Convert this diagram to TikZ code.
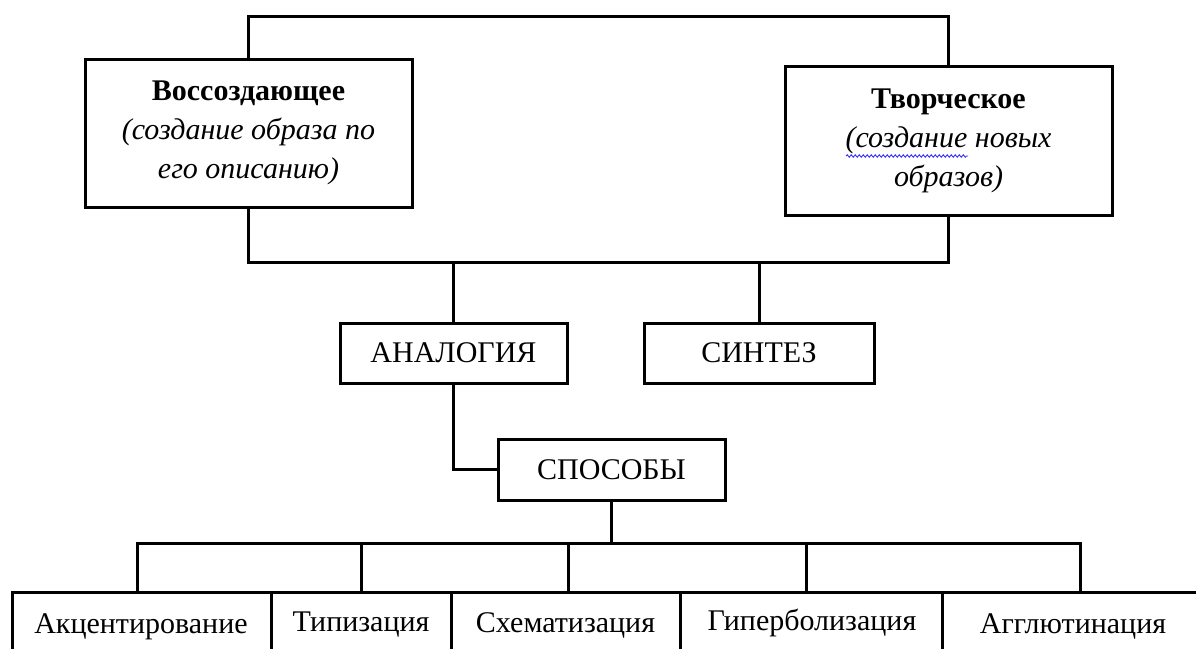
\documentclass[tikz,border=0pt]{standalone}
\usepackage{fontspec}
\setmainfont{Liberation Serif}
\usetikzlibrary{calc,decorations.pathmorphing}
\begin{document}
\begin{tikzpicture}[x=1pt,y=-1pt,
  line width=3pt, line join=miter,
  txt/.style={font=\fontsize{30}{39}\selectfont},
  box/.style={draw, line width=3pt, inner sep=0pt, align=center, txt},
  link/.style={draw, line width=3pt, line cap=rect, line join=miter},
  celltext/.style={txt, anchor=base, inner sep=0pt}]
\clip (0,0) rectangle (1196,648);
\fill[white] (0,0) rectangle (1196,648);

% top boxes
\node[box, minimum width=327, minimum height=148] (lb) at (248.5,133)
  {\textbf{Воссоздающее}\\\textit{(создание образа по}\\\textit{его описанию)}};
\node[box, minimum width=327, minimum height=149] (rb) at (948.5,140.5)
  {\textbf{Творческое}\\\textit{(создание новых}\\\textit{образов)}};

% middle boxes
\node[box, minimum width=227, minimum height=60] (an) at (453.5,353) {АНАЛОГИЯ};
\node[box, minimum width=230, minimum height=60] (sy) at (759,353) {СИНТЕЗ};
\node[box, minimum width=227, minimum height=61] (sp) at (611.5,469.5) {СПОСОБЫ};

% helper coordinates
\coordinate (topy) at (0,16);
\coordinate (boty) at (0,262);
\coordinate (bry) at (0,543);

% top connector
\draw[link] (lb.north) -- (lb.north |- topy) -- (rb.north |- topy) -- (rb.north);
% bottom connector
\draw[link] (lb.south) -- (lb.south |- boty) -- (rb.south |- boty) -- (rb.south);
\draw[link] (an.north) -- (an.north |- boty);
\draw[link] (sy.north) -- (sy.north |- boty);
% analogy to methods
\draw[link] (an.south) |- (sp.west);

% bottom table texts
\node[celltext] (c1) at (141,633) {Акцентирование};
\node[celltext] (c2) at (361,631) {Типизация};
\node[celltext] (c3) at (565.5,632) {Схематизация};
\node[celltext] (c4) at (812,630) {Гиперболизация};
\node[celltext] (c5) at (1073,633) {Агглютинация};

% table frame
\draw[line width=3pt] (12,660) -- (12,592) -- (1200,592);
\foreach \x in {271,451,680,942} \draw[line width=3pt] (\x,592) -- (\x,660);

% branch
\coordinate (d1) at (137,592);
\coordinate (d2) at (361,592);
\coordinate (d3) at (568,592);
\coordinate (d4) at (806,592);
\coordinate (d5) at (1080,592);
\draw[link] (sp.south) -- (sp.south |- bry);
\draw[link] (d1) -- (d1 |- bry) -- (d5 |- bry) -- (d5);
\draw[link] (d2 |- bry) -- (d2);
\draw[link] (d3 |- bry) -- (d3);
\draw[link] (d4 |- bry) -- (d4);

% spell-check wavy underline
\draw[blue!80, line width=0.9pt, decorate, decoration={snake, amplitude=1.2pt, segment length=4pt}] (846,156) -- (968,156);
\end{tikzpicture}
\end{document}
